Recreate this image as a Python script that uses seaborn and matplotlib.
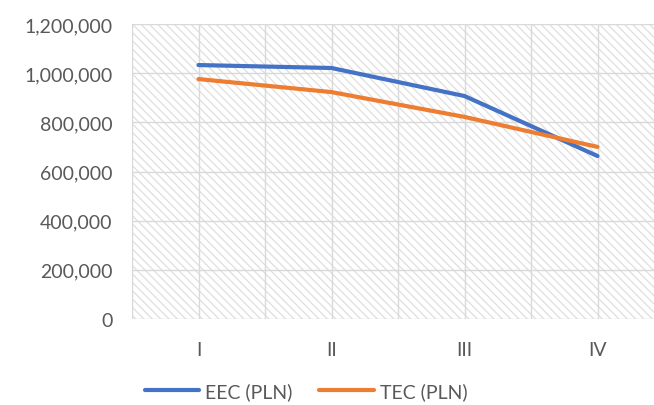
import pandas as pd
import matplotlib.pyplot as plt
import matplotlib.ticker as mticker
from matplotlib.patches import Rectangle
import seaborn as sns

# dane
kategorie = ["I", "II", "III", "IV"]
eec = [1033000, 1021000, 907000, 663000]
tec = [976000, 923000, 822000, 700000]
serie = ["EEC (PLN)", "TEC (PLN)"]
kolory = ["#4472C4", "#ED7D31"]

df = pd.DataFrame({
    "x": list(range(len(kategorie))) * 2,
    "wartosc": eec + tec,
    "seria": [serie[0]] * len(eec) + [serie[1]] * len(tec),
})

sns.set_style("white")
plt.rcParams['font.family'] = ['Lato', 'DejaVu Sans']
plt.rcParams['hatch.linewidth'] = 0.9

fig = plt.figure(figsize=(6.54, 4.06), dpi=100)
ax = fig.add_axes([132 / 654, 1 - 320 / 406, 532 / 654, 295 / 406])

# tło kreskowane
tlo = Rectangle((0, 0), 1, 1, transform=ax.transAxes, facecolor="white",
                edgecolor="#dedede", hatch="\\\\\\\\", linewidth=0, zorder=0)
ax.add_patch(tlo)

sns.lineplot(data=df, x="x", y="wartosc", hue="seria", palette=kolory,
             linewidth=3, ax=ax, legend=True, zorder=3)

ax.set_xlim(-0.5, len(kategorie) - 0.5)
ax.set_ylim(0, 1200000)
ax.set_xticks(range(len(kategorie)))
ax.set_xticklabels(kategorie)
ax.xaxis.set_minor_locator(mticker.FixedLocator([i + 0.5 for i in range(-1, len(kategorie))]))
ax.yaxis.set_major_locator(mticker.MultipleLocator(200000))
ax.yaxis.set_major_formatter(mticker.FuncFormatter(lambda v, p: f"{int(v):,}"))

ax.grid(True, which="both", color="#d9d9d9", linewidth=1, zorder=1)
ax.set_axisbelow(False)
for gl in ax.get_xgridlines() + ax.get_ygridlines():
    gl.set_zorder(1)
for s in ax.spines.values():
    s.set_visible(False)

ax.tick_params(axis="both", which="both", length=0, labelsize=14, colors="#595959")
ax.tick_params(axis="x", pad=16)
ax.tick_params(axis="y", pad=14)
ax.set_xlabel("")
ax.set_ylabel("")

leg = ax.legend(loc="center", bbox_to_anchor=(306 / 654, 1 - 392 / 406),
                bbox_transform=fig.transFigure, ncol=2, frameon=False,
                fontsize=14, handlelength=2.8, columnspacing=1.4, handletextpad=0.3)
for t in leg.get_texts():
    t.set_color("#595959")
for l in leg.get_lines():
    l.set_linewidth(3)

fig.savefig("out.png", dpi=100)
